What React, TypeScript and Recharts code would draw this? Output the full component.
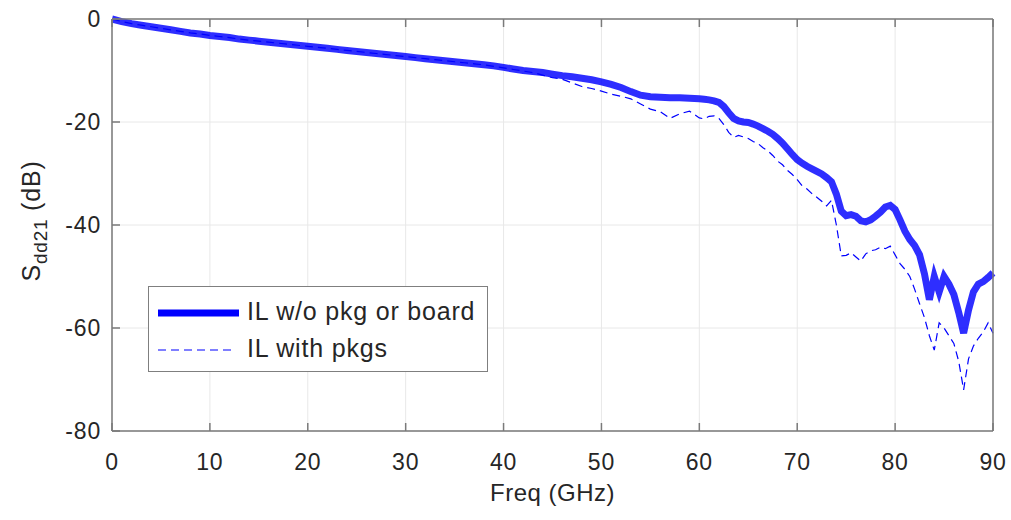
import { CartesianGrid, Legend, Line, LineChart, XAxis, YAxis } from "recharts";

// Frequency grid (GHz): 1 GHz steps up to 60, then 0.5 GHz steps
const freqGHz = [
  0, 1, 2, 3, 4, 5, 6, 7, 8, 9,
  10, 11, 12, 13, 14, 15, 16, 17, 18, 19,
  20, 21, 22, 23, 24, 25, 26, 27, 28, 29,
  30, 31, 32, 33, 34, 35, 36, 37, 38, 39,
  40, 41, 42, 43, 44, 45, 46, 47, 48, 49,
  50, 51, 52, 53, 54, 55, 56, 57, 58, 59,
  60,
  60.5, 61, 61.5, 62, 62.5, 63, 63.5, 64, 64.5, 65,
  65.5, 66, 66.5, 67, 67.5, 68, 68.5, 69, 69.5, 70,
  70.5, 71, 71.5, 72, 72.5, 73, 73.5, 74, 74.5, 75,
  75.5, 76, 76.5, 77, 77.5, 78, 78.5, 79, 79.5, 80,
  80.5, 81, 81.5, 82, 82.5, 83, 83.5, 84, 84.5, 85,
  85.5, 86, 86.5, 87, 87.5, 88, 88.5, 89, 89.5, 90,
];

// Sdd21 (dB), channel alone
const ilBare = [
  0, -0.5, -0.9, -1.2, -1.5, -1.8, -2.1, -2.4, -2.7, -2.9,
  -3.2, -3.4, -3.6, -3.9, -4.1, -4.3, -4.5, -4.7, -4.9, -5.1,
  -5.3, -5.5, -5.7, -5.9, -6.1, -6.3, -6.5, -6.7, -6.9, -7.1,
  -7.3, -7.5, -7.7, -7.9, -8.1, -8.3, -8.5, -8.7, -8.9, -9.1,
  -9.4, -9.7, -10.0, -10.2, -10.4, -10.7, -11.0, -11.2, -11.5, -11.8,
  -12.2, -12.7, -13.3, -14.1, -14.8, -15.1, -15.2, -15.3, -15.3, -15.4,
  -15.5,
  -15.6, -15.7, -15.9, -16.2, -17.0, -18.2, -19.3, -19.8, -20.0, -20.1,
  -20.4, -20.8, -21.3, -21.8, -22.4, -23.2, -24.1, -25.2, -26.3, -27.3,
  -28.0, -28.6, -29.1, -29.6, -30.1, -30.8, -31.6, -34.0, -37.3, -38.2,
  -38.0, -38.3, -39.2, -39.4, -39.0, -38.3, -37.5, -36.5, -36.2, -37.0,
  -39.0, -41.2, -42.8, -44.0, -45.8, -49.5, -54.5, -50.0, -53.0, -50.0,
  -51.5, -53.5, -57.0, -61.0, -56.5, -53.0, -51.5, -51.0, -50.2, -49.3,
];

// Sdd21 (dB), channel with packages
const ilPkg = [
  0, -0.5, -0.9, -1.2, -1.5, -1.8, -2.1, -2.4, -2.7, -2.9,
  -3.2, -3.4, -3.6, -3.9, -4.1, -4.3, -4.5, -4.7, -4.9, -5.1,
  -5.3, -5.5, -5.7, -5.9, -6.1, -6.3, -6.5, -6.7, -6.9, -7.1,
  -7.3, -7.5, -7.7, -7.9, -8.1, -8.3, -8.5, -8.7, -8.9, -9.2,
  -9.5, -9.8, -10.1, -10.4, -10.9, -11.4, -11.7, -12.4, -13.1, -13.5,
  -14.0, -14.6, -15.0, -15.5, -16.5, -17.5, -18.0, -19.3, -18.4, -17.9,
  -19.2,
  -19.4, -18.9, -18.8, -19.3, -20.5, -22.0, -23.0, -22.6, -22.9, -23.2,
  -23.8, -24.2, -25.0, -25.6, -26.5, -27.6, -28.3, -29.4, -30.2, -31.2,
  -32.4, -33.0, -33.9, -34.6, -35.4, -36.3, -35.2, -40.0, -46.0, -45.9,
  -45.4, -46.2, -47.0, -45.6, -45.0, -44.8, -44.3, -44.6, -44.1, -45.8,
  -47.5, -48.6, -50.0, -52.5, -55.3, -58.0, -61.5, -64.3, -59.0, -60.0,
  -61.5, -63.0, -66.5, -72.0, -66.0, -63.5, -62.0, -60.8, -59.0, -61.0,
];

const xTicks = [0, 10, 20, 30, 40, 50, 60, 70, 80, 90];
const yTicks = [-80, -60, -40, -20, 0];

const seriesNames = ["IL w/o pkg or board", "IL with pkgs"];

const data = freqGHz.map((f, i) => ({ f, bare: ilBare[i], pkg: ilPkg[i] }));

const FONT = "'Liberation Sans', Arial, Helvetica, sans-serif";
const AXIS = "#7a7a7a";
const TEXT = "#262626";

function YLabel(props: any) {
  const vb = props.viewBox || {};
  const cx = vb.x + 28;
  const cy = vb.y + vb.height / 2 - 4;
  return (
    <text
      x={cx}
      y={cy}
      transform={`rotate(-90, ${cx}, ${cy})`}
      textAnchor="middle"
      fill={TEXT}
      fontFamily={FONT}
      fontSize={25}
      letterSpacing={0.8}
    >
      S
      <tspan dy={7} fontSize={19}>
        dd21
      </tspan>
      <tspan dy={-7}> (dB)</tspan>
    </text>
  );
}

function LegendBox() {
  return (
    <div
      style={{
        width: 338,
        height: 84,
        background: "#fff",
        border: "1px solid #7f7f7f",
        fontFamily: FONT,
        fontSize: 25,
        letterSpacing: 0.8,
        color: TEXT,
        position: "relative",
      }}
    >
      <svg width={100} height={84} style={{ position: "absolute", left: 0, top: 0 }}>
        <line x1={9} x2={90} y1={26} y2={26} stroke="#0000ff" strokeWidth={7} />
        <line x1={9} x2={84} y1={63} y2={63} stroke="#0000ff" strokeWidth={1.2} strokeDasharray="8 5" />
      </svg>
      <div style={{ position: "absolute", left: 98, top: 10, whiteSpace: "nowrap" }}>{seriesNames[0]}</div>
      <div style={{ position: "absolute", left: 98, top: 47, whiteSpace: "nowrap" }}>{seriesNames[1]}</div>
    </div>
  );
}

export default function App() {
  return (
    <div style={{ position: "absolute", left: 0, top: 0, background: "#fff" }}>
      <LineChart
        width={1011}
        height={520}
        data={data}
        margin={{ top: 18, right: 17, bottom: 9, left: 12 }}
      >
        <CartesianGrid xAxisId="b" yAxisId="l" stroke="#e8e8e8" strokeWidth={1} />
        <XAxis
          xAxisId="b"
          dataKey="f"
          type="number"
          domain={[0, 90]}
          ticks={xTicks}
          height={80}
          stroke={AXIS}
          strokeWidth={1.5}
          tickSize={-8}
          tickMargin={31}
          tick={{ fill: TEXT, fontSize: 23, fontFamily: FONT, letterSpacing: 0.8 }}
          label={{
            value: "Freq (GHz)",
            position: "insideBottom",
            offset: 10,
            fill: TEXT,
            fontSize: 24,
            fontFamily: FONT,
            letterSpacing: 0.5,
          }}
        />
        <XAxis
          xAxisId="t"
          dataKey="f"
          type="number"
          orientation="top"
          domain={[0, 90]}
          ticks={xTicks}
          height={1}
          stroke={AXIS}
          strokeWidth={1.5}
          tickSize={-8}
          tickFormatter={() => ""}
        />
        <YAxis
          yAxisId="l"
          type="number"
          domain={[-80, 0]}
          ticks={yTicks}
          width={100}
          stroke={AXIS}
          strokeWidth={1.5}
          tickSize={-8}
          tickMargin={19}
          tick={{ fill: TEXT, fontSize: 23, fontFamily: FONT, letterSpacing: 0.8 }}
          label={<YLabel />}
        />
        <YAxis
          yAxisId="r"
          type="number"
          orientation="right"
          domain={[-80, 0]}
          ticks={yTicks}
          width={1}
          stroke={AXIS}
          strokeWidth={1.5}
          tickSize={-8}
          tickFormatter={() => ""}
        />
        <Legend
          layout="horizontal"
          align="center"
          verticalAlign="middle"
          content={() => <LegendBox />}
          wrapperStyle={{ position: "absolute", left: 148, top: 286, width: 340, height: 86 }}
        />
        <Line
          xAxisId="b"
          yAxisId="l"
          type="linear"
          dataKey="bare"
          name={seriesNames[0]}
          stroke="#0000ff"
          strokeOpacity={0.82}
          strokeWidth={7}
          dot={false}
          isAnimationActive={false}
        />
        <Line
          xAxisId="b"
          yAxisId="l"
          type="linear"
          dataKey="pkg"
          name={seriesNames[1]}
          stroke="#0000ff"
          strokeWidth={1.2}
          strokeDasharray="8 5"
          dot={false}
          isAnimationActive={false}
        />
      </LineChart>
    </div>
  );
}
